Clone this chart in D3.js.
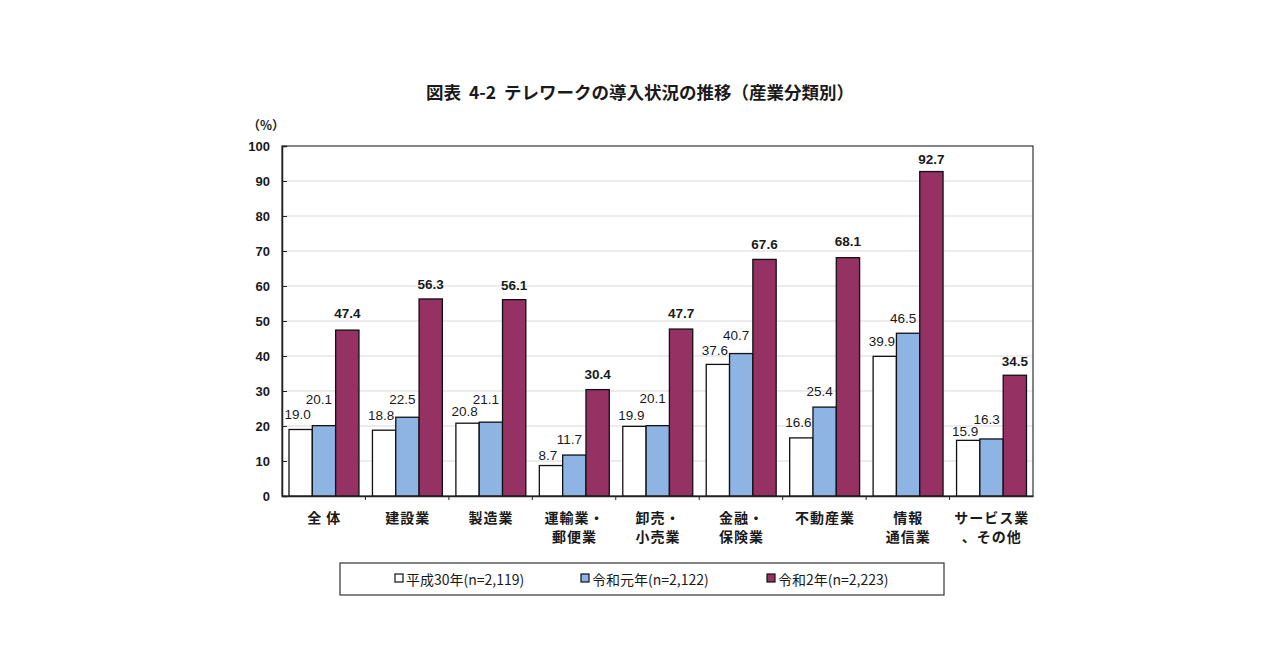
<!DOCTYPE html>
<html lang="ja">
<head>
<meta charset="utf-8">
<script src="https://cdn.jsdelivr.net/npm/d3@7"></script>
<style>
  html, body { margin: 0; padding: 0; background: #fff; }
  svg { display: block; }
  text { font-family: "Liberation Sans", "Noto Sans CJK JP", sans-serif; fill: #1a1a1a; }
  .jp { font-family: "Noto Sans CJK JP", "Liberation Sans", sans-serif; }
</style>
</head>
<body>
<svg id="chart" width="1280" height="670"></svg>
<script>
// ---- data ----
const categories = ["全 体", "建設業", "製造業", "運輸業・\n郵便業", "卸売・\n小売業", "金融・\n保険業", "不動産業", "情報\n通信業", "サービス業\n、その他"];
const seriesNames = ["平成30年(n=2,119)", "令和元年(n=2,122)", "令和2年(n=2,223)"];
const h30 = [19.0, 18.8, 20.8, 8.7, 19.9, 37.6, 16.6, 39.9, 15.9];
const r1  = [20.1, 22.5, 21.1, 11.7, 20.1, 40.7, 25.4, 46.5, 16.3];
const r2  = [47.4, 56.3, 56.1, 30.4, 47.7, 67.6, 68.1, 92.7, 34.5];
const yTicks = [0, 10, 20, 30, 40, 50, 60, 70, 80, 90, 100];
const title = "図表  4-2  テレワークの導入状況の推移（産業分類別）";
const unitLabel = "（%）";

// ---- layout / style (not data) ----
const colors = ["#ffffff", "#8db4e2", "#953163"];
const labelLift = [
  [15.5, 15, 12, 10.5, 11, 14.4, 15, 15, 9],
  [26.6, 18, 23, 16, 27.6, 18.5, 16, 15, 19],
  [17, 14, 14.6, 15.6, 16, 15.4, 15.7, 12.5, 14]
];
const labelShift = [-3, -5, 0];
const plot = { left: 282, right: 1033, top: 146, bottom: 496 };

const svg = d3.select("#chart");
const allSeries = [h30, r1, r2];

const x = d3.scaleBand().domain(categories).range([plot.left, plot.right]).paddingInner(0).paddingOuter(0);
const inner = d3.scaleBand().domain([0, 1, 2]).range([7, x.bandwidth() - 6.5]).padding(0);
const y = d3.scaleLinear().domain([0, 100]).range([plot.bottom, plot.top]);

// Title
svg.append("text").attr("class", "jp")
  .attr("x", 640).attr("y", 99).attr("text-anchor", "middle")
  .attr("font-size", 17.5).attr("font-weight", "bold")
  .attr("xml:space", "preserve").style("white-space", "pre").text(title);
svg.append("text").attr("class", "jp")
  .attr("x", 266).attr("y", 130).attr("text-anchor", "middle")
  .attr("font-size", 12.5).attr("font-weight", "bold").text(unitLabel);

// gridlines
svg.append("g").selectAll("line").data(yTicks.filter(t => t > 0 && t < 100)).join("line")
  .attr("x1", plot.left).attr("x2", plot.right)
  .attr("y1", d => y(d)).attr("y2", d => y(d))
  .attr("stroke", "#d9d9d9").attr("stroke-width", 1);

// plot frame
svg.append("rect").attr("x", plot.left).attr("y", plot.top)
  .attr("width", plot.right - plot.left).attr("height", plot.bottom - plot.top)
  .attr("fill", "none").attr("stroke", "#333").attr("stroke-width", 1.2);

// Y axis
const yAxis = d3.axisLeft(y).tickValues(yTicks).tickSize(-5).tickPadding(12).tickFormat(d3.format("d"));
const gy = svg.append("g").attr("transform", `translate(${plot.left},0)`).call(yAxis);
gy.select(".domain").attr("stroke", "#222").attr("stroke-width", 1.5);
gy.selectAll(".tick line").attr("stroke", "#222");
gy.selectAll(".tick text").attr("font-size", 13).attr("font-family", "Liberation Sans, sans-serif")
  .attr("fill", "#1a1a1a").attr("font-weight", "bold").attr("x", -12);

// Bars
const groups = svg.append("g").selectAll("g").data(categories).join("g")
  .attr("transform", d => `translate(${x(d)},0)`);
allSeries.forEach((vals, si) => {
  groups.append("rect")
    .attr("x", inner(si)).attr("width", inner.bandwidth())
    .attr("y", (d, i) => y(vals[i]))
    .attr("height", (d, i) => y(0) - y(vals[i]))
    .attr("fill", colors[si]).attr("stroke", "#111").attr("stroke-width", 1.3);
});

// X axis
const xAxis = d3.axisBottom(x).tickSize(0).tickFormat("");
const gx = svg.append("g").attr("transform", `translate(0,${plot.bottom})`).call(xAxis);
gx.select(".domain").attr("stroke", "#222").attr("stroke-width", 1.5);
svg.append("g").selectAll("line").data(categories.slice(1)).join("line")
  .attr("x1", d => x(d)).attr("x2", d => x(d))
  .attr("y1", plot.bottom).attr("y2", plot.bottom + 4)
  .attr("stroke", "#222");

// Category labels
groups.append("text").attr("class", "jp")
  .attr("text-anchor", "middle").attr("font-size", 14).attr("font-weight", "bold")
  .attr("letter-spacing", 1)
  .attr("x", x.bandwidth() / 2)
  .each(function(d) {
    const lines = d.split("\n");
    d3.select(this).selectAll("tspan").data(lines).join("tspan")
      .attr("x", x.bandwidth() / 2 + 0.5)
      .attr("y", (l, k) => 523 + k * 19)
      .text(l => l);
  });

// Value labels
allSeries.forEach((vals, si) => {
  groups.append("text")
    .attr("text-anchor", "middle").attr("dominant-baseline", "central")
    .attr("font-size", 13.5).attr("font-weight", si === 2 ? "bold" : "normal")
    .attr("x", inner(si) + inner.bandwidth() / 2 + labelShift[si])
    .attr("y", (d, i) => y(vals[i]) - labelLift[si][i])
    .text((d, i) => vals[i].toFixed(1));
});

// Legend
const legend = svg.append("g");
legend.append("rect").attr("x", 340).attr("y", 563).attr("width", 604).attr("height", 32)
  .attr("fill", "#fff").attr("stroke", "#333").attr("stroke-width", 1.2);
const legendX = [395, 581, 767];
seriesNames.forEach((name, si) => {
  legend.append("rect").attr("x", legendX[si]).attr("y", 574).attr("width", 8).attr("height", 8)
    .attr("fill", colors[si]).attr("stroke", "#111").attr("stroke-width", 1.2);
  legend.append("text").attr("class", "jp")
    .attr("x", legendX[si] + 11).attr("y", 579).attr("dominant-baseline", "central")
    .attr("font-size", 14).text(name);
});
</script>
</body>
</html>
